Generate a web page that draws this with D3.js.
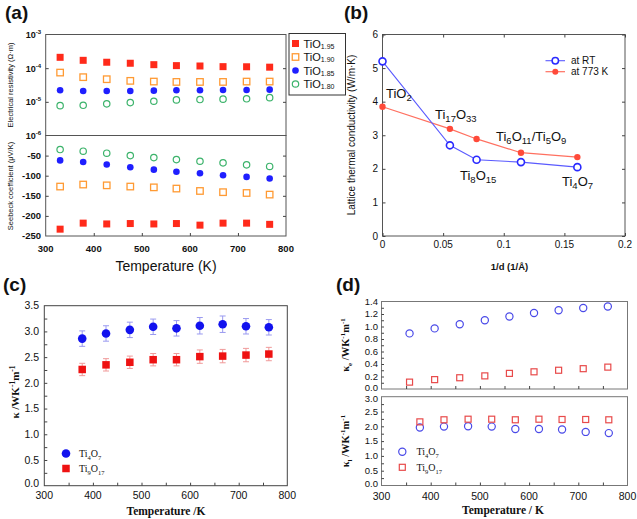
<!DOCTYPE html>
<html><head><meta charset="utf-8">
<script src="https://cdn.jsdelivr.net/npm/d3@7"></script>
<style>body{margin:0;background:#fff}svg{display:block}</style>
</head><body>
<svg id="fig" width="637" height="519"></svg>
<script>
// ---------- DATA ----------
// (a)
const tempA = [330, 378, 427, 476, 525, 572, 621, 669, 718, 766];
const resTiO195 = [2.1e-4, 1.71e-4, 1.5e-4, 1.4e-4, 1.27e-4, 1.19e-4, 1.16e-4, 1.11e-4, 1.1e-4, 1.07e-4];
const resTiO190 = [7.4e-5, 5.4e-5, 4.7e-5, 4.2e-5, 4.0e-5, 3.9e-5, 3.9e-5, 3.9e-5, 4.0e-5, 4.0e-5];
const resTiO185 = [2.2e-5, 2.1e-5, 2.1e-5, 2.1e-5, 2.15e-5, 2.2e-5, 2.2e-5, 2.25e-5, 2.25e-5, 2.3e-5];
const resTiO180 = [7.7e-6, 7.9e-6, 8.7e-6, 9.5e-6, 1.04e-5, 1.14e-5, 1.17e-5, 1.2e-5, 1.23e-5, 1.33e-5];
const seeTiO195 = [-233, -218, -220, -219, -220, -219, -223, -218, -218, -221];
const seeTiO190 = [-127, -122, -124, -127, -129, -132, -138, -141, -143, -147];
const seeTiO185 = [-62, -66, -72, -79, -85, -90, -94, -99, -103, -107];
const seeTiO180 = [-35, -39, -44, -50, -55, -60, -64, -68, -73, -77];
const seriesA = ["1.95", "1.90", "1.85", "1.80"];
const resExpTicks = [-3, -4, -5, -6];
const seeTicks = [-50, -100, -150, -200, -250];
const tempTicks = [300, 400, 500, 600, 700, 800];
// (b)
const invD = [0, 0.0556, 0.0776, 0.1142, 0.1607];
const kLatRT = [5.2, 2.7, 2.27, 2.2, 2.05];
const kLat773 = [3.85, 3.19, 2.89, 2.48, 2.35];
const invDTicks = [0, 0.05, 0.1, 0.15, 0.2];
const kLatTicks = [0, 1, 2, 3, 4, 5, 6];
// (c)
const tempC = [378, 427, 476, 524, 572, 620, 667, 715, 762];
const kTi4O7 = [2.86, 2.96, 3.03, 3.09, 3.06, 3.11, 3.14, 3.10, 3.08];
const kTi4O7Err = [0.15, 0.15, 0.15, 0.15, 0.15, 0.16, 0.16, 0.15, 0.15];
const kTi9O17 = [2.26, 2.35, 2.40, 2.45, 2.45, 2.51, 2.52, 2.54, 2.56];
const kTi9O17Err = [0.12, 0.12, 0.12, 0.12, 0.12, 0.13, 0.13, 0.13, 0.13];
const kCTicks = [0, 0.5, 1.0, 1.5, 2.0, 2.5, 3.0, 3.5];
// (d)
const tempDe = [357, 408, 459, 510, 560, 610, 660, 710, 760];
const keTi4O7 = [0.89, 0.97, 1.035, 1.10, 1.16, 1.215, 1.26, 1.295, 1.32];
const keTi9O17 = [0.11, 0.15, 0.18, 0.21, 0.25, 0.275, 0.30, 0.325, 0.35];
const tempDl = [378, 427, 476, 524, 572, 620, 667, 715, 762];
const klTi4O7 = [1.96, 1.99, 2.0, 1.99, 1.91, 1.91, 1.89, 1.81, 1.77];
const klTi9O17 = [2.15, 2.22, 2.24, 2.24, 2.22, 2.24, 2.23, 2.23, 2.22];
const keTicks = [0, 0.2, 0.4, 0.6, 0.8, 1.0, 1.2, 1.4];
const klTicks = [0, 0.5, 1.0, 1.5, 2.0, 2.5, 3.0];

// ---------- HELPERS ----------
const svg = d3.select("#fig");
svg.append("rect").attr("width", 637).attr("height", 519).attr("fill", "#fff");
const SANS = "Arial, 'Liberation Sans', sans-serif";
const SERIF = "'Liberation Serif', 'Times New Roman', serif";

function formula(g, x, y, parts, size, opts = {}) {
  const t = g.append("text").attr("x", x).attr("y", y)
    .attr("font-family", opts.family || SANS).attr("font-size", size)
    .attr("font-weight", opts.weight || "normal")
    .attr("fill", opts.fill || "#111")
    .attr("text-anchor", opts.anchor || "start");
  if (opts.transform) t.attr("transform", opts.transform);
  let shifted = 0;
  const subS = opts.subSize || size * 0.68;
  const d = size * (opts.subDy || 0.3);
  parts.forEach(([s, kind]) => {
    const ts = t.append("tspan").text(s);
    let want = kind === "sub" ? d : kind === "sup" ? -size * 0.38 : 0;
    if (want !== shifted) { ts.attr("dy", want - shifted); shifted = want; }
    if (kind) ts.attr("font-size", subS);
  });
  return t;
}
function sq(g, x, y, s, fill, stroke, sw) {
  g.append("rect").attr("x", x - s / 2).attr("y", y - s / 2).attr("width", s).attr("height", s)
    .attr("fill", fill).attr("stroke", stroke || "none").attr("stroke-width", sw || 0);
}
function circ(g, x, y, r, fill, stroke, sw) {
  g.append("circle").attr("cx", x).attr("cy", y).attr("r", r)
    .attr("fill", fill).attr("stroke", stroke || "none").attr("stroke-width", sw || 0);
}
function frame(g, x0, x1, y0, y1, col) {
  g.append("rect").attr("x", x0).attr("y", y0).attr("width", x1 - x0).attr("height", y1 - y0)
    .attr("fill", "none").attr("stroke", col || "#444").attr("stroke-width", 1);
}
function inAxis(g, axisFn, scale, vals, pos, len) {
  const a = axisFn(scale).tickValues(vals).tickSize(-len).tickFormat("");
  const ax = g.append("g").attr("transform", pos).call(a);
  ax.select(".domain").remove();
  ax.selectAll("line").attr("stroke", "#444");
  return ax;
}
function labels(g, scale, vals, fmt, opts) {
  vals.forEach(v => {
    const t = g.append("text").attr("font-family", opts.family || SANS).attr("font-size", opts.size)
      .attr("font-weight", opts.weight || "normal").attr("fill", "#111");
    const nudge = (opts.nudge && opts.nudge(v)) || 0;
    if (opts.orient === "x") t.attr("x", scale(v)).attr("y", opts.at).attr("text-anchor", "middle").text(fmt(v));
    else t.attr("x", opts.at).attr("y", scale(v) + nudge).attr("dy", "0.35em").attr("text-anchor", "end").text(fmt(v));
  });
}

// ---------- (a) ----------
{
  const g = svg.append("g");
  const x = d3.scaleLinear().domain([300, 800]).range([45.7, 286]);
  const yR = d3.scaleLog().domain([1e-6, 1e-3]).range([135.5, 34.5]);
  const yS = d3.scaleLinear().domain([-250, 0]).range([236, 135.5]);
  frame(g, 45.7, 286, 34.5, 135.5, "#555");
  frame(g, 45.7, 286, 135.5, 236, "#555");
  inAxis(g, d3.axisBottom, x, tempTicks.slice(1, -1), "translate(0,236)", 3);
  inAxis(g, d3.axisLeft, yR, [1e-4, 1e-5], "translate(45.7,0)", 3);
  inAxis(g, d3.axisLeft, yS, seeTicks.slice(0, 4), "translate(45.7,0)", 3);
  inAxis(g, d3.axisRight, yR, [1e-4, 1e-5], "translate(286,0)", 3);
  inAxis(g, d3.axisRight, yS, seeTicks.slice(0, 4), "translate(286,0)", 3);
  labels(g, x, tempTicks, d => d, {orient: "x", at: 252, size: 9.5, weight: "bold"});
  resExpTicks.forEach(e => {
    const t = g.append("text").attr("x", 41).attr("y", yR(Math.pow(10, e)) + 3.5)
      .attr("text-anchor", "end").attr("font-family", SANS).attr("font-size", 9).attr("font-weight", "bold").attr("fill", "#111");
    t.append("tspan").text("10");
    t.append("tspan").attr("dy", -4).attr("font-size", 6).text(String(e));
  });
  labels(g, yS, seeTicks, d => d, {orient: "y", at: 41, size: 9.5, weight: "bold"});
  const red = "#ff2a1a", org = "#ff9a33", blu = "#1f1fff", grn = "#3cb36b";
  tempA.forEach((T, i) => {
    sq(g, x(T), yR(resTiO195[i]), 7, red);
    sq(g, x(T), yR(resTiO190[i]), 6.5, "none", org, 1.3);
    circ(g, x(T), yR(resTiO185[i]), 3.3, blu);
    circ(g, x(T), yR(resTiO180[i]), 3.2, "none", grn, 1.2);
    sq(g, x(T), yS(seeTiO195[i]), 7, red);
    sq(g, x(T), yS(seeTiO190[i]), 6.5, "none", org, 1.3);
    circ(g, x(T), yS(seeTiO185[i]), 3.3, blu);
    circ(g, x(T), yS(seeTiO180[i]), 3.2, "none", grn, 1.2);
  });
  g.append("rect").attr("x", 289).attr("y", 33.5).attr("width", 56.5).attr("height", 61.5)
    .attr("fill", "#fff").attr("stroke", "#333").attr("stroke-width", 1);
  const ly = [43.5, 57, 70.5, 84];
  sq(g, 295.5, ly[0], 7, red);
  sq(g, 295.5, ly[1], 6.5, "none", org, 1.3);
  circ(g, 295.5, ly[2], 3.3, blu);
  circ(g, 295.5, ly[3], 3.2, "none", grn, 1.2);
  seriesA.forEach((s, i) => formula(g, 303.5, ly[i] + 4, [["TiO", null], [s, "sub"]], 11, {subSize: 7, subDy: 0.1}));
  g.append("text").attr("transform", "translate(13,85) rotate(-90)").attr("text-anchor", "middle")
    .attr("font-family", SANS).attr("font-size", 7.5).attr("fill", "#111").text("Electrical resistivity (Ω·m)");
  g.append("text").attr("transform", "translate(13,186) rotate(-90)").attr("text-anchor", "middle")
    .attr("font-family", SANS).attr("font-size", 7.5).attr("fill", "#111").text("Seebeck coefficient (μV/K)");
  g.append("text").attr("x", 166).attr("y", 271).attr("text-anchor", "middle")
    .attr("font-family", SANS).attr("font-size", 14).attr("fill", "#111").text("Temperature (K)");
  g.append("text").attr("x", 5).attr("y", 19).attr("font-family", SANS).attr("font-size", 19)
    .attr("font-weight", "bold").attr("fill", "#111").text("(a)");
}

// ---------- (b) ----------
{
  const g = svg.append("g");
  const x = d3.scaleLinear().domain([0, 0.2]).range([382.5, 625]);
  const y = d3.scaleLinear().domain([0, 6]).range([236, 34.5]);
  frame(g, 382.5, 625, 34.5, 236, "#555");
  inAxis(g, d3.axisBottom, x, invDTicks, "translate(0,236)", 3);
  inAxis(g, d3.axisTop, x, invDTicks, "translate(0,34.5)", 3);
  inAxis(g, d3.axisLeft, y, kLatTicks, "translate(382.5,0)", 3);
  inAxis(g, d3.axisRight, y, kLatTicks, "translate(625,0)", 3);
  labels(g, x, invDTicks, d => d, {orient: "x", at: 248, size: 10});
  labels(g, y, kLatTicks, d => d, {orient: "y", at: 378, size: 10});
  const blue = "#2a2aff", red = "#ff4a3a";
  const line = d3.line().x(d => x(d[0])).y(d => y(d[1]));
  g.append("path").datum(invD.map((v, i) => [v, kLat773[i]])).attr("d", line)
    .attr("fill", "none").attr("stroke", "#ff7060").attr("stroke-width", 1.2);
  g.append("path").datum(invD.map((v, i) => [v, kLatRT[i]])).attr("d", line)
    .attr("fill", "none").attr("stroke", "#5a5aff").attr("stroke-width", 1.1);
  invD.forEach((v, i) => {
    circ(g, x(v), y(kLat773[i]), 3.2, red);
    circ(g, x(v), y(kLatRT[i]), 3.5, "#fff", blue, 1.6);
  });
  g.append("line").attr("x1", 545.5).attr("x2", 565).attr("y1", 60.7).attr("y2", 60.7).attr("stroke", "#5a5aff").attr("stroke-width", 1.1);
  circ(g, 555.3, 60.7, 3.2, "#fff", blue, 1.5);
  g.append("line").attr("x1", 545.5).attr("x2", 565).attr("y1", 71.7).attr("y2", 71.7).attr("stroke", "#ff7060").attr("stroke-width", 1.2);
  circ(g, 555.3, 71.7, 3, red);
  g.append("text").attr("x", 571).attr("y", 64.2).attr("font-family", SANS).attr("font-size", 10).attr("fill", "#111").text("at RT");
  g.append("text").attr("x", 571).attr("y", 75.2).attr("font-family", SANS).attr("font-size", 10).attr("fill", "#111").text("at 773 K");
  formula(g, 386, 98, [["TiO", null], ["2", "sub"]], 13, {subDy: 0.2, subSize: 9.5});
  formula(g, 435, 119, [["Ti", null], ["17", "sub"], ["O", null], ["33", "sub"]], 13, {subDy: 0.2, subSize: 9.5});
  formula(g, 496, 141, [["Ti", null], ["6", "sub"], ["O", null], ["11", "sub"], ["/Ti", null], ["5", "sub"], ["O", null], ["9", "sub"]], 13, {subDy: 0.2, subSize: 9.5});
  formula(g, 460, 180, [["Ti", null], ["8", "sub"], ["O", null], ["15", "sub"]], 13, {subDy: 0.2, subSize: 9.5});
  formula(g, 562, 186, [["Ti", null], ["4", "sub"], ["O", null], ["7", "sub"]], 13, {subDy: 0.2, subSize: 9.5});
  g.append("text").attr("transform", "translate(355,135) rotate(-90)").attr("text-anchor", "middle")
    .attr("font-family", SANS).attr("font-size", 10).attr("fill", "#111").text("Lattice thermal conductivity (W/m·K)");
  g.append("text").attr("x", 509.5).attr("y", 270).attr("text-anchor", "middle")
    .attr("font-family", SANS).attr("font-size", 9.5).attr("font-weight", "bold").attr("fill", "#111").text("1/d (1/Å)");
  g.append("text").attr("x", 344).attr("y", 19).attr("font-family", SANS).attr("font-size", 19)
    .attr("font-weight", "bold").attr("fill", "#111").text("(b)");
}

// ---------- (c) ----------
{
  const g = svg.append("g");
  const x = d3.scaleLinear().domain([300, 800]).range([44.3, 287.3]);
  const y = d3.scaleLinear().domain([0, 3.5]).range([485.7, 305.7]);
  frame(g, 44.3, 287.3, 305.7, 485.7, "#444");
  inAxis(g, d3.axisBottom, x, d3.range(350, 800, 50), "translate(0,485.7)", 3);
  inAxis(g, d3.axisLeft, y, d3.range(0.25, 3.5, 0.25), "translate(44.3,0)", 3);
  labels(g, x, tempTicks, d => d, {orient: "x", at: 499, size: 10.5});
  labels(g, y, kCTicks, d => d.toFixed(1), {orient: "y", at: 39, size: 10.5, nudge: v => v === 0 ? -2 : 0});
  const blue = "#1212ee", red = "#ee1212";
  tempC.forEach((T, i) => {
    [[kTi4O7, kTi4O7Err, "#9a9af0"], [kTi9O17, kTi9O17Err, "#f09a9a"]].forEach(([v, e, c]) => {
      g.append("line").attr("x1", x(T)).attr("x2", x(T)).attr("y1", y(v[i] - e[i])).attr("y2", y(v[i] + e[i])).attr("stroke", c).attr("stroke-width", 1);
      [v[i] - e[i], v[i] + e[i]].forEach(w => g.append("line").attr("x1", x(T) - 3).attr("x2", x(T) + 3)
        .attr("y1", y(w)).attr("y2", y(w)).attr("stroke", c).attr("stroke-width", 1));
    });
  });
  tempC.forEach((T, i) => {
    circ(g, x(T), y(kTi4O7[i]), 4.3, blue);
    sq(g, x(T), y(kTi9O17[i]), 7.5, red);
  });
  circ(g, 66, 453.5, 4.3, blue);
  sq(g, 66, 468.5, 7.5, red);
  formula(g, 79, 457, [["Ti", null], ["4", "sub"], ["O", null], ["7", "sub"]], 10, {family: SERIF, subSize: 6.5});
  formula(g, 79, 472, [["Ti", null], ["9", "sub"], ["O", null], ["17", "sub"]], 10, {family: SERIF, subSize: 6.5});
  formula(g, 0, 0, [["κ /WK", null], ["-1", "sup"], ["m", null], ["-1", "sup"]], 11,
    {family: SERIF, weight: "bold", anchor: "middle", transform: "translate(19,392) rotate(-90)", subSize: 7.5});
  g.append("text").attr("x", 166).attr("y", 515).attr("text-anchor", "middle")
    .attr("font-family", SERIF).attr("font-size", 11.5).attr("font-weight", "bold").attr("fill", "#111").text("Temperature /K");
  g.append("text").attr("x", 3).attr("y", 291).attr("font-family", SANS).attr("font-size", 19)
    .attr("font-weight", "bold").attr("fill", "#111").text("(c)");
}

// ---------- (d) ----------
{
  const g = svg.append("g");
  const x = d3.scaleLinear().domain([300, 800]).range([381.5, 627.5]);
  const yE = d3.scaleLinear().domain([0, 1.4]).range([389, 301.5]);
  const yL = d3.scaleLinear().domain([0, 3]).range([485.5, 396.7]);
  frame(g, 381.5, 627.5, 301.5, 389, "#777");
  frame(g, 381.5, 627.5, 396.7, 485.5, "#777");
  inAxis(g, d3.axisBottom, x, d3.range(350, 800, 50), "translate(0,389)", 3);
  inAxis(g, d3.axisBottom, x, d3.range(350, 800, 50), "translate(0,485.5)", 3);
  inAxis(g, d3.axisLeft, yE, d3.range(0.1, 1.4, 0.1), "translate(381.5,0)", 2.5);
  inAxis(g, d3.axisLeft, yL, d3.range(0.25, 3, 0.25), "translate(381.5,0)", 2.5);
  labels(g, x, tempTicks, d => d, {orient: "x", at: 499.5, size: 10.5});
  labels(g, yE, keTicks, d => d.toFixed(1), {orient: "y", at: 378, size: 9.5, nudge: v => v === 0 ? -1.5 : 0});
  labels(g, yL, klTicks, d => d.toFixed(1), {orient: "y", at: 378, size: 9.5, nudge: v => v === 3 ? 1.5 : (v === 0 ? -2 : 0)});
  const blue = "#4a4ae8", red = "#e84a4a";
  tempDe.forEach((T, i) => {
    circ(g, x(T), yE(keTi4O7[i]), 3.6, "none", blue, 1.2);
    sq(g, x(T), yE(keTi9O17[i]), 6, "none", red, 1.2);
  });
  tempDl.forEach((T, i) => {
    circ(g, x(T), yL(klTi4O7[i]), 3.6, "none", blue, 1.2);
    sq(g, x(T), yL(klTi9O17[i]), 6, "none", red, 1.2);
  });
  circ(g, 402.3, 451.7, 3.6, "none", blue, 1.2);
  sq(g, 402.3, 467.3, 6, "none", red, 1.2);
  formula(g, 416.5, 455, [["Ti", null], ["4", "sub"], ["O", null], ["7", "sub"]], 10, {family: SERIF, subSize: 6.5});
  formula(g, 416.5, 470.5, [["Ti", null], ["9", "sub"], ["O", null], ["17", "sub"]], 10, {family: SERIF, subSize: 6.5});
  formula(g, 0, 0, [["κ", null], ["e", "sub"], [" /WK", null], ["-1", "sup"], ["m", null], ["-1", "sup"]], 10.5,
    {family: SERIF, weight: "bold", anchor: "middle", transform: "translate(349,345) rotate(-90)", subSize: 7});
  formula(g, 0, 0, [["κ", null], ["l", "sub"], [" /WK", null], ["-1", "sup"], ["m", null], ["-1", "sup"]], 10.5,
    {family: SERIF, weight: "bold", anchor: "middle", transform: "translate(349,441) rotate(-90)", subSize: 7});
  g.append("text").attr("x", 503).attr("y", 514).attr("text-anchor", "middle")
    .attr("font-family", SERIF).attr("font-size", 11.5).attr("font-weight", "bold").attr("fill", "#111").text("Temperature / K");
  g.append("text").attr("x", 336).attr("y", 291).attr("font-family", SANS).attr("font-size", 19)
    .attr("font-weight", "bold").attr("fill", "#111").text("(d)");
}
</script>
</body></html>
